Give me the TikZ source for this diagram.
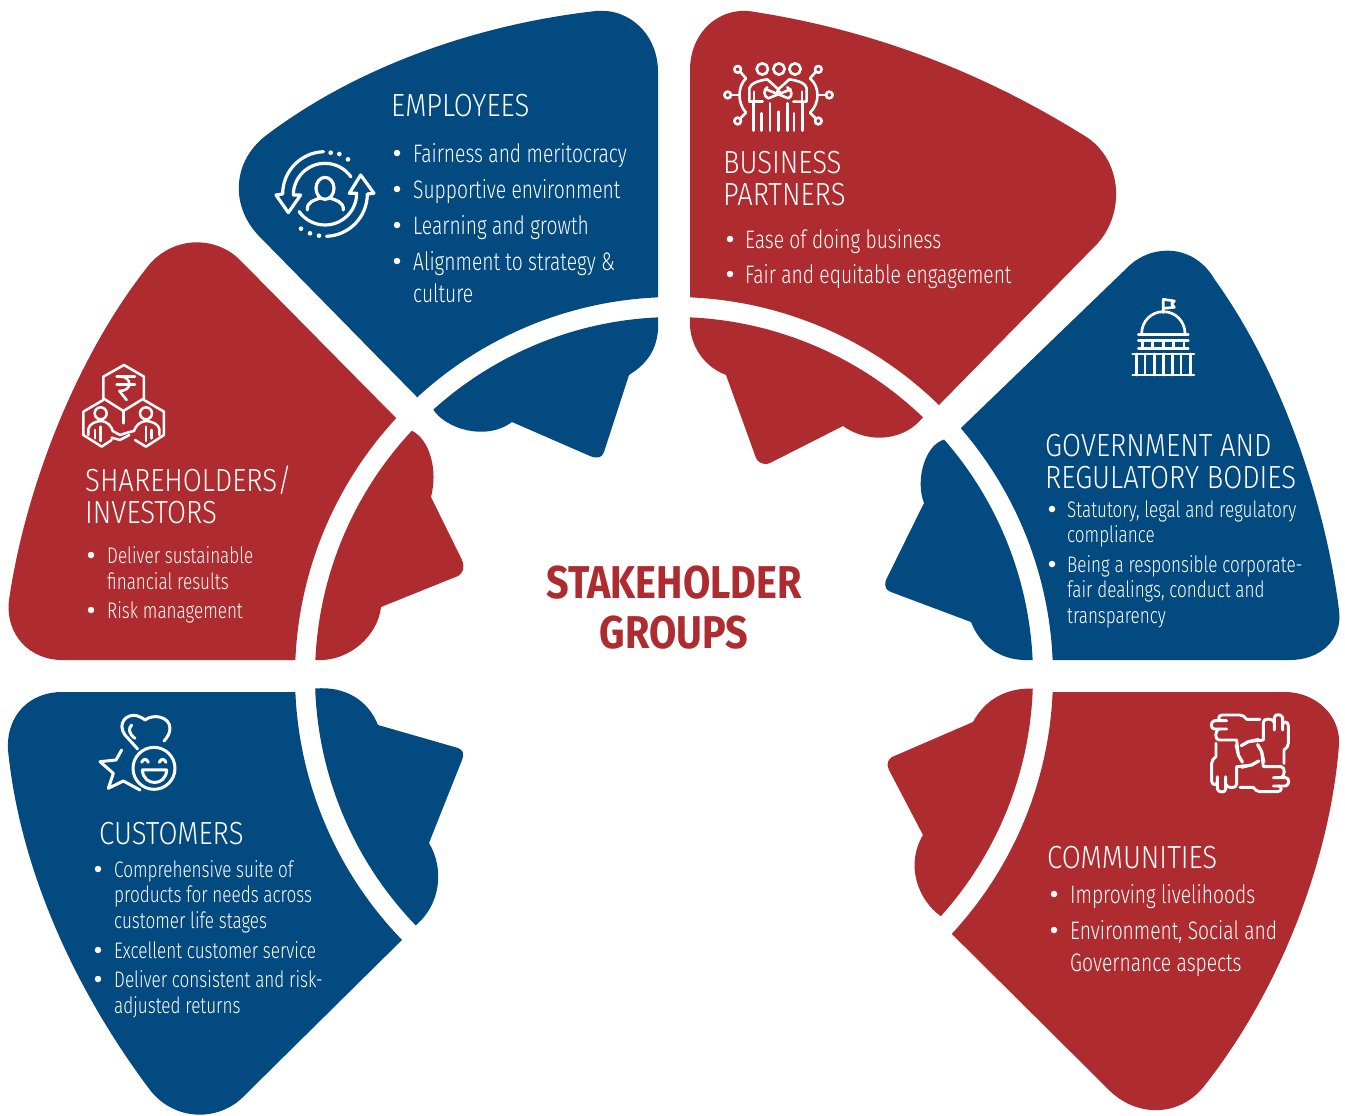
\documentclass[tikz,border=0pt]{standalone}
\usepackage{fontspec}
\setmainfont{Fira Sans}[UprightFont={* Light},BoldFont={* Bold},FakeStretch=0.76]
\newfontfamily\headfam{Fira Sans}[UprightFont={* Light},FakeStretch=0.86]
\newfontfamily\titlefam{Fira Sans}[UprightFont={* Bold},FakeStretch=0.86]
\definecolor{sblue}{HTML}{034A80}
\definecolor{sred}{HTML}{AE2B30}
\newcommand\ringarc[3]{([shift={(674,676)}]#2:#1) arc[start angle=#2,end angle=#3,radius=#1]}
\tikzset{
  head/.style={anchor=base west,inner sep=0,text=white,font=\fontsize{32}{32}\headfam},
  itemL/.style={anchor=base west,inner sep=0,text=white,font=\fontsize{25.3}{25}\selectfont},
  itemM/.style={anchor=base west,inner sep=0,text=white,font=\fontsize{22.5}{23}\selectfont},
  title/.style={anchor=base,inner sep=0,text=sred,font=\fontsize{46}{46}\titlefam},
  bul/.style={circle,fill=white,inner sep=0,minimum size=6.5pt},
  ico/.style={draw=white,line width=3pt,line cap=round,line join=round},
  zoomed/.style={shift={#1},x=0.3333pt,y=-0.3333pt}
}
\begin{document}
\begin{tikzpicture}[x=1pt,y=-1pt]
\useasboundingbox (0,0) rectangle (1345,1116);
\fill[white] (0,0) rectangle (1345,1116);
% --- Employees
\fill[sblue] \ringarc{379}{227.35}{267.58} -- (658,72) .. controls (658,35) and (630,8) .. (596,11) .. controls (480,24) and (360,65) .. (268,134) .. controls (232,160) and (230,205) .. (258,235) -- cycle;
\fill[sblue] \ringarc{359}{267.45}{227.9} .. controls (445,428) and (485,442) .. (512,422) -- (590,456) .. controls (597,459) and (602,458) .. (604,452) -- (629,375) .. controls (650,362) and (660,345) .. (658.0,317) -- cycle;
% --- Partners
\fill[sred] \ringarc{379}{314.36}{272.42} -- (690,70) .. controls (690,32) and (720,5) .. (755,12) .. controls (870,30) and (980,70) .. (1088,138) .. controls (1122,162) and (1125,212) .. (1098,243) -- cycle;
\fill[sred] \ringarc{359}{272.55}{313.9} .. controls (905,440) and (870,445) .. (843,426) -- (770,463) .. controls (763,466) and (758,462) .. (756,458) -- (726,375) .. controls (700,365) and (688,340) .. (690,317) -- cycle;
% --- Government
\fill[sblue] \ringarc{379}{357.58}{319.17} -- (1130,265) .. controls (1155,243) and (1195,245) .. (1215,280) .. controls (1280,370) and (1325,500) .. (1339,610) .. controls (1343,640) and (1320,660) .. (1290,660) -- cycle;
\fill[sblue] \ringarc{359}{357.45}{318.8} .. controls (925,445) and (915,480) .. (924,503) -- (886,580) .. controls (884,587) and (886,590) .. (891,592) -- (971,622) .. controls (980,645) and (1000,662) .. (1032.6,660) -- cycle;
% --- Shareholders
\fill[sred] \ringarc{379}{182.42}{222.86} -- (240,260) .. controls (215,235) and (170,235) .. (145,270) .. controls (75,360) and (25,490) .. (9,600) .. controls (5,635) and (30,660) .. (62,660) -- cycle;
\fill[sred] \ringarc{359}{182.55}{223.1} .. controls (430,440) and (438,470) .. (431,497) -- (462,560) .. controls (465,568) and (463,573) .. (458,576) -- (381,607) .. controls (378,635) and (350,662) .. (315.4,660) -- cycle;
% --- Customers
\fill[sblue] \ringarc{379}{177.58}{135.86} -- (245,1095) .. controls (220,1122) and (175,1122) .. (150,1090) .. controls (75,990) and (20,870) .. (8,750) .. controls (6,715) and (30,692) .. (62,692) -- cycle;
\fill[sblue] \ringarc{359}{178}{136} .. controls (440,905) and (445,870) .. (429,843) -- (462,760) .. controls (465,752) and (462,750) .. (458,748) -- (378,725) .. controls (368,700) and (345,686) .. (315.2,688.5) -- cycle;
% --- Communities
\fill[sred] \ringarc{379}{42.87}{2.42} -- (1285,692) .. controls (1315,692) and (1341,715) .. (1339,745) .. controls (1330,860) and (1280,990) .. (1205,1085) .. controls (1180,1118) and (1135,1118) .. (1107,1088) -- cycle;
\fill[sred] \ringarc{359}{2}{42} .. controls (918,900) and (905,865) .. (923,835) -- (889,770) .. controls (886,763) and (888,760) .. (892,757) -- (973,722) .. controls (985,700) and (1005,688) .. (1032.8,688.5) -- cycle;

% --- Title
\node[title] (t1) at (674,598) {STAKEHOLDER};
\node[title] (t2) at (674,648) {GROUPS};

% --- Employees text
\node[head] (e0) at (391,117) {EMPLOYEES};
\node[itemL] (e1) at (413,162) {Fairness and meritocracy};
\node[itemL] (e2) at (413,198) {Supportive environment};
\node[itemL] (e3) at (413,234) {Learning and growth};
\node[itemL] (e4) at (413,270) {Alignment to strategy \&};
\node[itemL] (e5) at (413,302) {culture};
\foreach \y [count=\i] in {153,189,225,261} \node[bul] (eb\i) at (397,\y) {};
% --- Partners text
\node[head] (p0) at (723,173) {BUSINESS};
\node[head] (p1) at (723,205) {PARTNERS};
\node[itemL] (p2) at (745,248) {Ease of doing business};
\node[itemL] (p3) at (745,283) {Fair and equitable engagement};
\foreach \y [count=\i] in {239,274} \node[bul] (pb\i) at (730,\y) {};
% --- Government text
\node[head] (g0) at (1045,456) {GOVERNMENT AND};
\node[head] (g1) at (1045,488) {REGULATORY BODIES};
\node[itemM] (g2) at (1067,517) {Statutory, legal and regulatory};
\node[itemM] (g3) at (1067,542) {compliance};
\node[itemM] (g4) at (1067,572) {Being a responsible corporate-};
\node[itemM] (g5) at (1067,597) {fair dealings, conduct and};
\node[itemM] (g6) at (1067,623) {transparency};
\foreach \y [count=\i] in {509,564} \node[bul] (gb\i) at (1052,\y) {};
% --- Shareholders text
\node[head] (s0) at (85,491) {SHAREHOLDERS/};
\node[head] (s1) at (85,523) {INVESTORS};
\node[itemM] (s2) at (107,563) {Deliver sustainable};
\node[itemM] (s3) at (107,589) {financial results};
\node[itemM] (s4) at (107,618) {Risk management};
\foreach \y [count=\i] in {555,610} \node[bul] (sb\i) at (91,\y) {};
% --- Customers text
\node[head] (c0) at (99,844) {CUSTOMERS};
\node[itemM] (c1) at (114,877) {Comprehensive suite of};
\node[itemM] (c2) at (114,902) {products for needs across};
\node[itemM] (c3) at (114,928) {customer life stages};
\node[itemM] (c4) at (114,958) {Excellent customer service};
\node[itemM] (c5) at (114,987) {Deliver consistent and risk-};
\node[itemM] (c6) at (114,1013) {adjusted returns};
\foreach \y [count=\i] in {869,950,979} \node[bul] (cb\i) at (98,\y) {};
% --- Communities text
\node[head] (m0) at (1047,868) {COMMUNITIES};
\node[itemL] (m1) at (1070,903) {Improving livelihoods};
\node[itemL] (m2) at (1070,939) {Environment, Social and};
\node[itemL] (m3) at (1070,971) {Governance aspects};
\foreach \y [count=\i] in {894,930} \node[bul] (mb\i) at (1054,\y) {};

% --- Icon: employees
\begin{scope}[zoomed={(260,130)},ico,line width=3.2pt]
\draw (195,175) ellipse [x radius=27,y radius=33];
\draw (142,240) .. controls (140,215) and (165,210) .. (178,205);
\draw (212,205) .. controls (225,210) and (252,215) .. (250,240);
\draw ([shift={(195,192)}]268:127) arc[start angle=268,end angle=180,radius=127] -- (48,195) -- (85,248) -- (122,195) -- (100,195) arc[start angle=180,end angle=325,radius=95];
\draw ([shift={(195,192)}]88:127) arc[start angle=88,end angle=0,radius=127] -- (342,190) -- (302,135) -- (268,190) -- (290,190) arc[start angle=0,end angle=145,radius=95];
\foreach \a/\b in {212/68,238/72,264/88,123/296,150/310,177/317} \fill[white] (\a,\b) circle (7);
\end{scope}
% --- Icon: partners
\begin{scope}[zoomed={(710,50)},ico,line width=2.6pt]
\foreach \a in {157,207,255} \draw (\a,57) circle (17);
\foreach \a/\b in {83/58,53/135,83/213,325/58,358/135,325/213} \draw (\a,\b) circle (10);
\draw (90,65) -- (108,85); \draw (63,135) -- (87,135); \draw (90,206) -- (108,188);
\draw (318,65) -- (300,85); \draw (348,135) -- (325,135); \draw (318,206) -- (300,188);
\draw (108,85) .. controls (82,110) and (82,160) .. (108,188);
\draw (300,85) .. controls (330,110) and (330,160) .. (300,188);
\draw (118,155) -- (118,115) .. controls (122,100) and (145,92) .. (172,88) -- (205,118) -- (238,88) .. controls (265,92) and (288,100) .. (290,115) -- (290,155) -- (250,155);
\draw (118,155) -- (158,155);
\draw (132,155) -- (132,125); \draw (276,155) -- (276,125);
\draw (168,118) -- (235,145) .. controls (250,140) and (245,118) .. (232,112);
\draw (242,118) -- (175,145) .. controls (160,140) and (160,118) .. (172,112);
\draw (205,118) -- (198,135); \draw (205,118) -- (212,135);
\foreach \a/\b in {130/160,155/190,180/160,205/185,232/160,252/190,278/160} \draw (\a,\b) -- (\a,242);
\end{scope}
% --- Icon: government
\begin{scope}[zoomed={(1120,290)},ico,line width=2.7pt]
\draw (130,68) -- (130,28) -- (163,33) -- (155,42) -- (163,52) -- (130,55);
\draw (65,130) arc[start angle=180,end angle=360,radius=65];
\draw (55,133) -- (205,133); \draw (55,152) -- (205,152); \draw (55,175) -- (205,175);
\foreach \a in {68,98,130,160,192} \draw (\a,152) -- (\a,175);
\draw (38,192) -- (222,192); \draw (38,255) -- (222,255);
\foreach \a in {50,75,103,130,157,183,212} \draw (\a,192) -- (\a,255);
\end{scope}
% --- Icon: shareholders
\begin{scope}[zoomed={(70,355)},ico,line width=2.5pt]
\draw (100,130) -- (100,65) -- (162,30) -- (222,65) -- (222,130) -- (160,168) -- cycle;
\draw (100,135) -- (40,170) -- (40,240) -- (95,275) -- (125,255);
\draw (222,135) -- (282,170) -- (282,240) -- (228,275) -- (195,255);
\draw (160,168) -- (160,205);
\draw (140,65) -- (195,65); \draw (140,88) -- (195,88);
\draw (152,65) .. controls (185,65) and (190,108) .. (148,108) -- (170,135);
\draw (92,175) circle (18); \draw (228,175) circle (18);
\draw (55,240) -- (55,222) .. controls (60,205) and (75,200) .. (92,198) .. controls (115,200) and (125,215) .. (128,228) -- (150,240) -- (175,232) -- (192,228) .. controls (198,212) and (208,200) .. (228,198) .. controls (250,200) and (265,208) .. (268,222) -- (268,240);
\draw (92,215) -- (92,258); \draw (228,215) -- (228,258);
\draw (75,225) -- (75,250); \draw (245,225) -- (245,250);
\draw (125,248) -- (150,255) -- (178,240);
\end{scope}
% --- Icon: customers
\begin{scope}[zoomed={(90,705)},ico,line width=3pt]
\draw (143,132) -- (105,90) .. controls (80,55) and (110,25) .. (140,32) .. controls (150,35) and (160,40) .. (165,45) .. controls (190,25) and (240,35) .. (240,70) .. controls (240,85) and (230,100) .. (222,108);
\draw (135,100) .. controls (115,85) and (115,70) .. (125,60);
\draw (192,190) circle (63);
\draw (155,172) .. controls (160,160) and (170,160) .. (175,172);
\draw (208,172) .. controls (213,160) and (223,160) .. (228,172);
\draw (157,195) -- (230,195) .. controls (228,245) and (160,245) .. (157,195) -- cycle;
\draw (95,135) -- (78,165) -- (30,170) -- (70,205) -- (55,250) -- (100,228) -- (150,255);
\end{scope}
% --- Icon: communities
\begin{scope}[zoomed={(1195,705)},ico,line width=2.9pt]
\foreach \r in {0,90,180,270}{
\begin{scope}[rotate around={\r:(165,145)}]
\draw (195,43) -- (155,43) .. controls (148,35) and (145,30) .. (135,30) -- (82,30) .. controls (68,30) and (68,47) .. (80,47) -- (95,47);
\draw (80,47) -- (58,47) .. controls (46,50) and (46,72) .. (58,72) -- (95,72);
\draw (72,72) .. controls (60,75) and (58,105) .. (72,105) -- (125,105) -- (130,150) -- (142,172);
\draw (190,103) -- (160,110) -- (140,122);
\end{scope}}
\end{scope}
\end{tikzpicture}
\end{document}
